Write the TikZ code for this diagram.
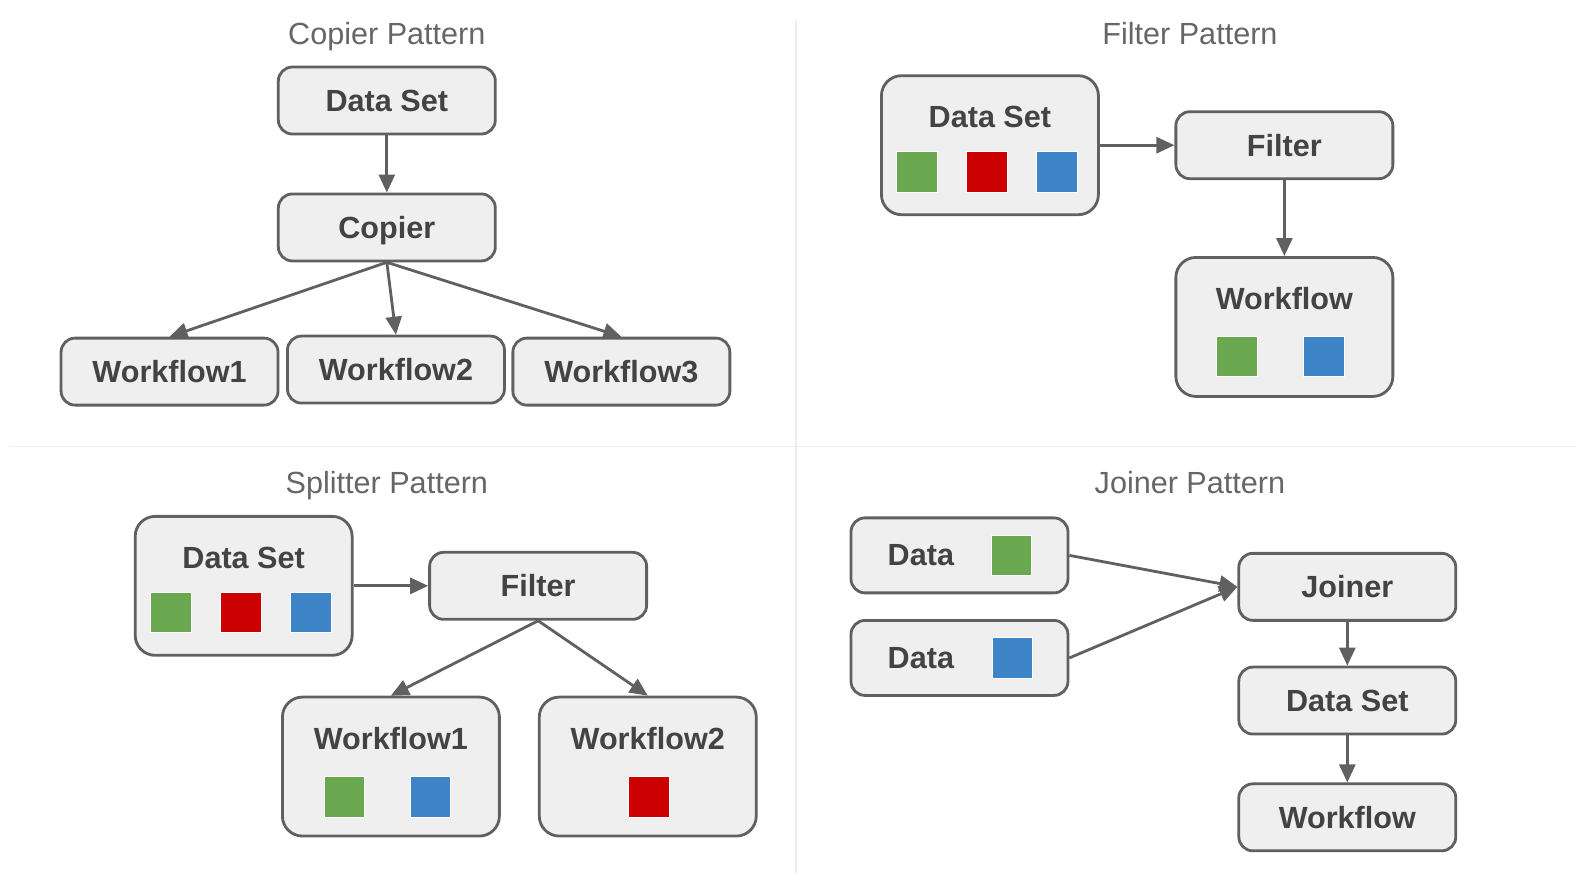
\documentclass[tikz,border=0pt]{standalone}
\usepackage{fontspec}
\setmainfont{Liberation Sans}
\usetikzlibrary{arrows.meta}
\definecolor{boxfill}{HTML}{EFEFEF}
\definecolor{boxline}{HTML}{606060}
\definecolor{boxtext}{HTML}{434343}
\definecolor{titletext}{HTML}{666666}
\definecolor{rulegray}{HTML}{EEEEEE}
\definecolor{sqgreen}{HTML}{6AA84F}
\definecolor{sqred}{HTML}{CC0000}
\definecolor{sqblue}{HTML}{3D85C6}

\begin{document}
\begin{tikzpicture}[x=0.5077pt,y=-0.5077pt,
	box/.style={draw=boxline,fill=boxfill,line width=1.4pt,rounded corners=7pt,minimum width=108.5pt,minimum height=33.5pt,inner sep=0pt,text depth=0pt,font=\fontsize{15.3}{18}\selectfont\bfseries,text=boxtext},
	tallbox/.style={box,rounded corners=10pt,minimum height=69.5pt},
	databox/.style={box,minimum height=37.5pt},
	boxlabel/.style={inner sep=0pt,text depth=0pt,font=\fontsize{15.3}{18}\selectfont\bfseries,text=boxtext},
	pattitle/.style={inner sep=0pt,anchor=base,font=\fontsize{15.3}{18}\selectfont,text=titletext},
	sq/.style={inner sep=0pt,minimum size=20.3pt,draw=white,line width=0.3pt},
	arr/.style={draw=boxline,line width=1.4pt,-{Triangle[length=9pt,width=8pt]}}]
	\useasboundingbox (0,0) rectangle (1568,879);
	\draw[rulegray,line width=0.6pt] (784,20) -- (784,860);
	\draw[rulegray,line width=0.6pt] (10,440) -- (1552,440);

	% copier
	\node[pattitle] (ctitle) at (381,44) {Copier Pattern};
	\node[box] (cds) at (381,99) {Data Set};
	\node[box] (ccopier) at (381,224) {Copier};
	\node[box] (cwf1) at (167,366) {Workflow1};
	\node[box] (cwf2) at (390,364) {Workflow2};
	\node[box] (cwf3) at (612,366) {Workflow3};
	\draw[arr] (cds) -- (ccopier);
	\draw[arr] (ccopier.south) -- (cwf1.north);
	\draw[arr] (ccopier.south) -- (cwf2.north);
	\draw[arr] (ccopier.south) -- (cwf3.north);

	% filter
	\node[pattitle] (ftitle) at (1172,44) {Filter Pattern};
	\node[tallbox] (fds) at (975,143) {};
	\node[boxlabel] (fdslabel) at (975,115) {Data Set};
	\node[sq,fill=sqgreen] (fdsg) at (903,169) {};
	\node[sq,fill=sqred] (fdsr) at (972,169) {};
	\node[sq,fill=sqblue] (fdsb) at (1041,169) {};
	\node[box] (ffilter) at (1265,143) {Filter};
	\node[tallbox] (fwf) at (1265,322) {};
	\node[boxlabel] (fwflabel) at (1265,294) {Workflow};
	\node[sq,fill=sqgreen] (fwfg) at (1218,351) {};
	\node[sq,fill=sqblue] (fwfb) at (1304,351) {};
	\draw[arr] (fds.east) -- (ffilter.west);
	\draw[arr] (ffilter) -- (fwf);

	% splitter
	\node[pattitle] (stitle) at (381,486) {Splitter Pattern};
	\node[tallbox] (sds) at (240,577) {};
	\node[boxlabel] (sdslabel) at (240,549) {Data Set};
	\node[sq,fill=sqgreen] (sdsg) at (168,603) {};
	\node[sq,fill=sqred] (sdsr) at (237,603) {};
	\node[sq,fill=sqblue] (sdsb) at (306,603) {};
	\node[box] (sfilter) at (530,577) {Filter};
	\node[tallbox] (swf1) at (385,755) {};
	\node[boxlabel] (swf1label) at (385,727) {Workflow1};
	\node[sq,fill=sqgreen] (swf1g) at (339,785) {};
	\node[sq,fill=sqblue] (swf1b) at (424,785) {};
	\node[tallbox] (swf2) at (638,755) {};
	\node[boxlabel] (swf2label) at (638,727) {Workflow2};
	\node[sq,fill=sqred] (swf2r) at (639,785) {};
	\draw[arr] (sds.east) -- (sfilter.west);
	\draw[arr] (sfilter.south) -- (swf1.north);
	\draw[arr] (sfilter.south) -- (swf2.north);

	% joiner
	\node[pattitle] (jtitle) at (1172,486) {Joiner Pattern};
	\node[databox] (jdata1) at (945,547) {};
	\node[boxlabel] (jdata1label) at (907,547) {Data};
	\node[sq,fill=sqgreen] (jdata1g) at (996,547) {};
	\node[databox] (jdata2) at (945,648) {};
	\node[boxlabel] (jdata2label) at (907,648) {Data};
	\node[sq,fill=sqblue] (jdata2b) at (997,648) {};
	\node[box] (jjoiner) at (1327,578) {Joiner};
	\node[box] (jds) at (1327,690) {Data Set};
	\node[box] (jwf) at (1327,805) {Workflow};
	\draw[arr] (jdata1.east) -- (jjoiner.west);
	\draw[arr] (jdata2.east) -- (jjoiner.west);
	\draw[arr] (jjoiner) -- (jds);
	\draw[arr] (jds) -- (jwf);
\end{tikzpicture}
\end{document}
